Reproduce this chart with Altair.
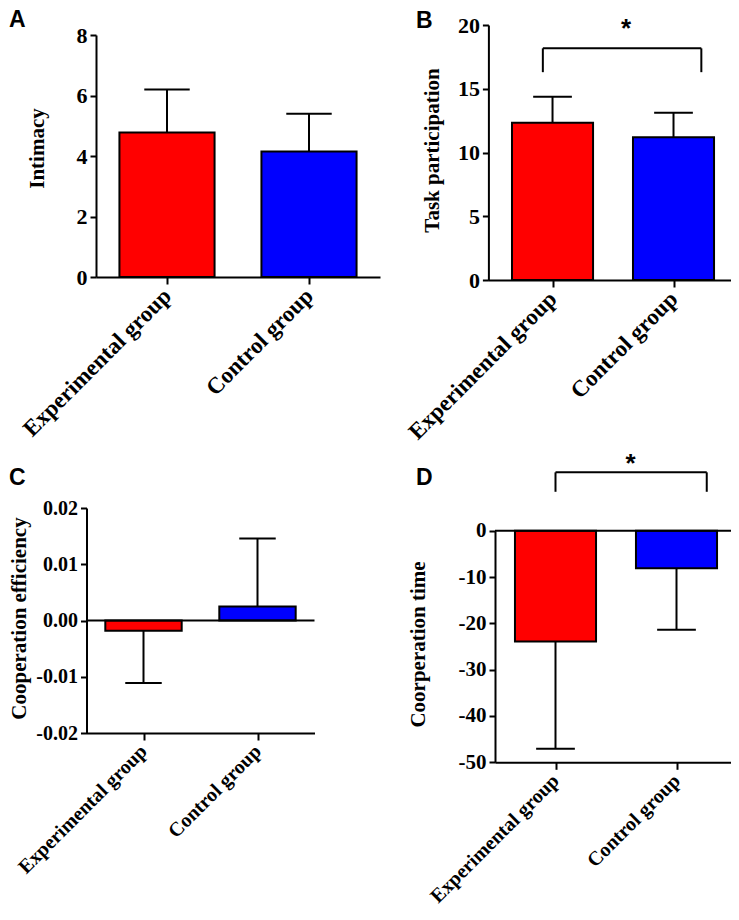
import altair as alt
import pandas as pd

# ---------------- data ----------------
groups = ["Experimental group", "Control group"]
bar_colors = ["#ff0000", "#0000ff"]

intimacy_mean = [4.78, 4.15]
intimacy_sd = [1.42, 1.25]
task_mean = [12.34, 11.19]
task_sd = [2.04, 1.93]
efficiency_mean = [-0.0018, 0.0025]
efficiency_sd = [0.0093, 0.0121]
time_mean = [-23.9, -8.1]
time_sd = [23.2, 13.3]

intimacy_ticks = [0, 2, 4, 6, 8]
task_ticks = [0, 5, 10, 15, 20]
efficiency_ticks = [-0.02, -0.01, 0.0, 0.01, 0.02]
time_ticks = [-50, -40, -30, -20, -10, 0]

panel_letters = ["A", "B", "C", "D"]

# ---------------- layout / style ----------------
W, H = 723, 904
SERIF = "Liberation Serif"
SANS = "Liberation Sans"
BAR_HALF = 0.335
CAP_HALF = 0.16
LW = 2


def make_table(means, sds):
    df = pd.DataFrame({"group": groups, "pos": [1, 2], "mean": means, "sd": sds})
    df["end"] = [m + (s if m >= 0 else -s) for m, s in zip(means, sds)]
    df["base"] = 0.0
    return df


def panel(means, sds, title, ticks, ydom, ypix, xdom, xpix, title_xy, fmt,
          xfs, yfs, zero_line=False, bracket=None, star=None):
    df = make_table(means, sds)
    xs = alt.Scale(domain=xdom, range=xpix, nice=False, zero=False)
    ys = alt.Scale(domain=ydom, range=ypix, nice=False, zero=False)
    label_expr = f"datum.value == 1 ? '{groups[0]}' : '{groups[1]}'"
    xaxis = alt.Axis(
        orient="bottom", offset=ypix[0] - H, values=[1, 2], labelExpr=label_expr,
        labelAngle=-45, labelAlign="right", labelBaseline="middle",
        labelFont=SERIF, labelFontWeight="bold", labelFontSize=xfs, labelColor="black",
        labelPadding=8, labelFlush=False, labelOverlap=False, labelLimit=400,
        tickSize=7, tickWidth=LW, tickColor="black",
        domainColor="black", domainWidth=LW, title=None, grid=False,
    )
    yaxis = alt.Axis(
        orient="left", offset=-xpix[0], values=ticks, format=fmt,
        labelExpr="replace(datum.label, '\u2212', '-')",
        labelFont=SERIF, labelFontWeight="bold", labelFontSize=yfs, labelColor="black",
        labelPadding=3, labelFlush=False, labelOverlap=False, labelLimit=400,
        tickSize=6, tickWidth=LW, tickColor="black",
        domainColor="black", domainWidth=LW, grid=False,
        title=title, titleFont=SERIF, titleFontWeight="bold", titleFontSize=21,
        titleColor="black", titleLimit=400, titleBaseline="middle",
        titleX=title_xy[0], titleY=title_xy[1],
    )
    base = alt.Chart(df)
    bars = base.mark_rect(stroke="black", strokeWidth=LW).encode(
        x=alt.X("left:Q", scale=xs, axis=xaxis),
        x2="right:Q",
        y=alt.Y("base:Q", scale=ys, axis=yaxis),
        y2="mean:Q",
        fill=alt.Fill("group:N", scale=alt.Scale(domain=groups, range=bar_colors), legend=None),
    ).transform_calculate(
        left=f"datum.pos - {BAR_HALF}", right=f"datum.pos + {BAR_HALF}"
    )
    err = base.mark_rule(color="black", strokeWidth=LW).encode(
        x=alt.X("pos:Q", scale=xs, axis=None),
        y=alt.Y("mean:Q", scale=ys, axis=None),
        y2="end:Q",
    )
    caps = base.mark_rule(color="black", strokeWidth=LW).encode(
        x=alt.X("cl:Q", scale=xs, axis=None),
        x2="cr:Q",
        y=alt.Y("end:Q", scale=ys, axis=None),
    ).transform_calculate(
        cl=f"datum.pos - {CAP_HALF}", cr=f"datum.pos + {CAP_HALF}"
    )
    layers = [bars, err, caps]
    if zero_line:
        zdf = pd.DataFrame({"a": [xdom[0]], "b": [xdom[1]], "z": [0.0]})
        layers.append(alt.Chart(zdf).mark_rule(color="black", strokeWidth=LW).encode(
            x=alt.X("a:Q", scale=xs, axis=None), x2="b:Q",
            y=alt.Y("z:Q", scale=ys, axis=None)))
    if bracket is not None:
        bx1, bx2, btop, bend = bracket
        bdf = pd.DataFrame({
            "x": [bx1, bx1, bx2], "x2": [bx2, bx1, bx2],
            "y": [btop, btop, btop], "y2": [btop, bend, bend],
        })
        layers.append(alt.Chart(bdf).mark_rule(color="black", strokeWidth=LW).encode(
            x=alt.X("x:Q", scale=xs, axis=None), x2="x2:Q",
            y=alt.Y("y:Q", scale=ys, axis=None), y2="y2:Q"))
    if star is not None:
        sdf = pd.DataFrame({"x": [star[0]], "y": [star[1]], "t": ["*"]})
        layers.append(alt.Chart(sdf).mark_text(
            font=SANS, fontWeight="bold", fontSize=26, color="black",
            baseline="alphabetic", align="center", dy=15).encode(
            x=alt.X("x:Q", scale=xs, axis=None),
            y=alt.Y("y:Q", scale=ys, axis=None),
            text="t:N"))
    return layers


pA = panel(intimacy_mean, intimacy_sd, "Intimacy", intimacy_ticks,
           [0, 8], [269, 27], [0.5, 2.5], [88, 372], (-59, 140), ".0f", 23, 22)
pB = panel(task_mean, task_sd, "Task participation", task_ticks,
           [0, 20], [272, 17], [0.47, 2.5], [480.4, 726], (-56, 142), ".0f", 23, 22,
           bracket=[0.92, 2.23, 18.17, 16.3], star=[1.607, 20.25])
pC = panel(efficiency_mean, efficiency_sd, "Cooperation efficiency", efficiency_ticks,
           [-0.02, 0.02], [725, 500], [0.5, 2.5], [78.5, 306.5], (-67.5, 610), ".2f", 20, 20,
           zero_line=True)
pD = panel(time_mean, time_sd, "Coorperation time", time_ticks,
           [-50, 0], [754.3, 522.7], [0.5, 2.5], [487, 729], (-76.5, 636), ".0f", 20, 21,
           zero_line=True, bracket=[1.0, 2.25, 12.6, 8.4], star=[1.62, 16.0])

letter_x = [1, 408, 1, 408]
letter_y = [19, 20, 477, 477]
letter_layers = []
for t, lx, ly in zip(panel_letters, letter_x, letter_y):
    letter_layers.append(
        alt.Chart(pd.DataFrame({"t": [t]})).mark_text(
            font=SANS, fontWeight="bold", fontSize=23, color="black",
            align="left", baseline="alphabetic").encode(
            x=alt.value(lx), y=alt.value(ly), text="t:N"))

chart = alt.layer(*pA, *pB, *pC, *pD, *letter_layers).resolve_scale(
    x="independent", y="independent"
).properties(
    width=W, height=H, padding=0,
    autosize=alt.AutoSizeParams(type="none"),
    background="white",
).configure_view(stroke=None)

chart.save("out.html", embed_options={"renderer": "svg", "actions": False})
